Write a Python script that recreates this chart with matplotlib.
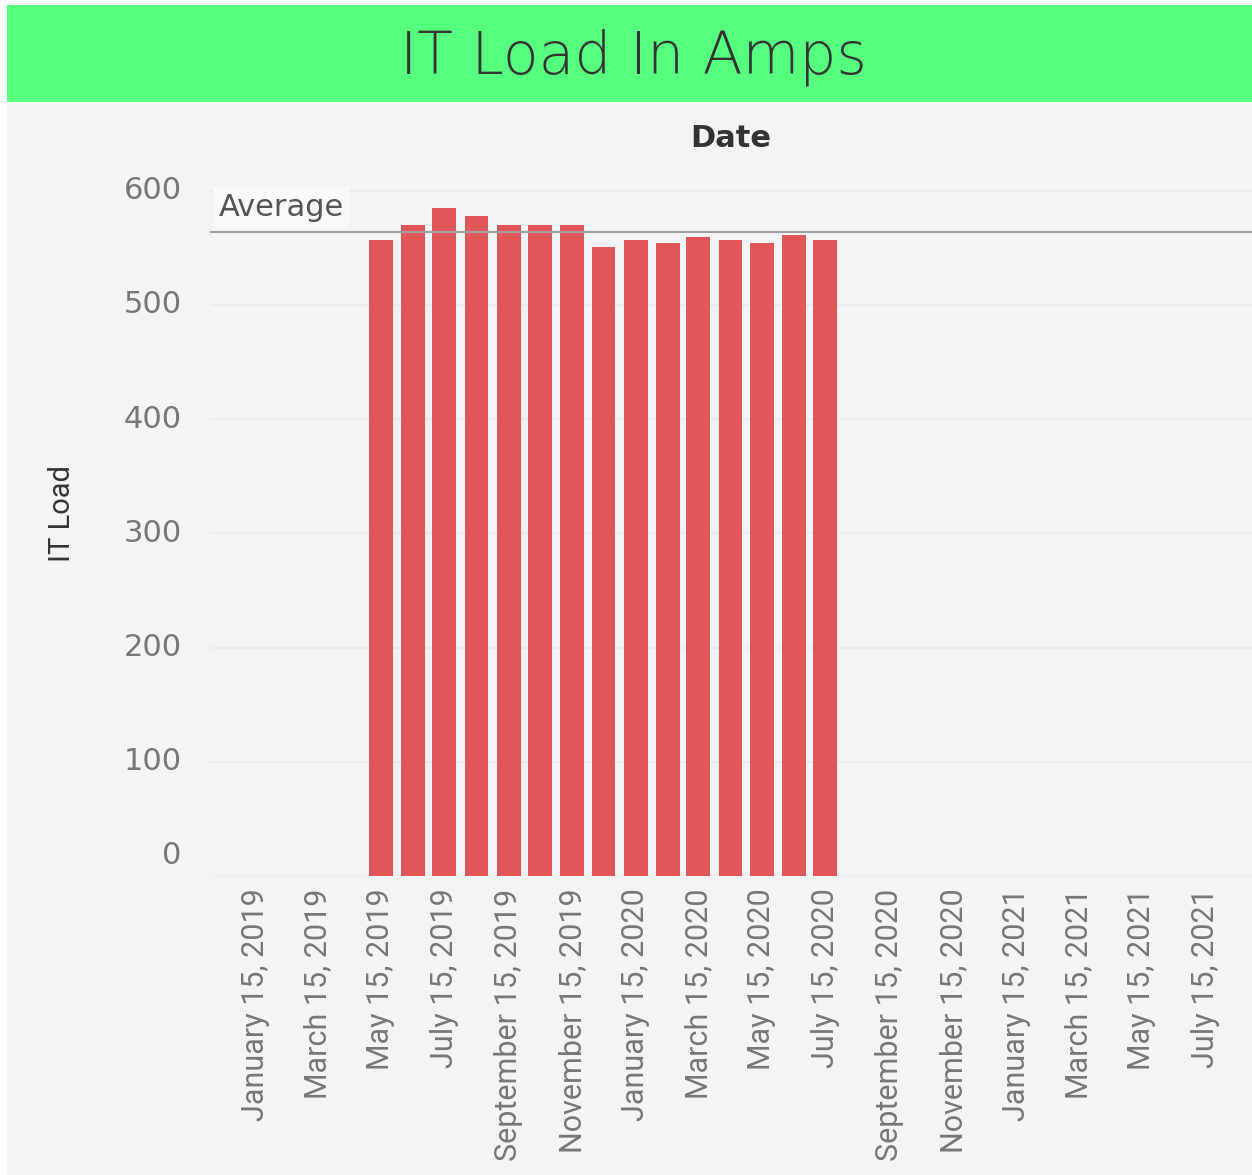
import datetime as dt
import matplotlib
matplotlib.use("Agg")
import matplotlib.pyplot as plt
from matplotlib.patches import Rectangle
from matplotlib.transforms import ScaledTranslation

# data
months = ["2019-05-15", "2019-06-15", "2019-07-15", "2019-08-15", "2019-09-15",
          "2019-10-15", "2019-11-15", "2019-12-15", "2020-01-15", "2020-02-15",
          "2020-03-15", "2020-04-15", "2020-05-15", "2020-06-15", "2020-07-15"]
it_load = [557, 570, 585, 578, 570, 570, 570, 551, 557, 554, 559, 557, 554, 561, 557]
tick_dates = ["2019-01-15", "2019-03-15", "2019-05-15", "2019-07-15", "2019-09-15",
              "2019-11-15", "2020-01-15", "2020-03-15", "2020-05-15", "2020-07-15",
              "2020-09-15", "2020-11-15", "2021-01-15", "2021-03-15", "2021-05-15",
              "2021-07-15"]
y_ticks = [0, 100, 200, 300, 400, 500, 600]

W, H = 1252, 1175

fig = plt.figure(figsize=(W / 100, H / 100), dpi=100)
fig.patch.set_facecolor("white")
# panel background + green header (behind the axes)
fig.patches.append(Rectangle((7 / W, 0), 1 - 7 / W, 1 - 102 / H, transform=fig.transFigure,
                             facecolor="#f4f4f4", edgecolor="none", zorder=-2))
fig.patches.append(Rectangle((7 / W, 1 - 102 / H), 1 - 7 / W, 97 / H, transform=fig.transFigure,
                             facecolor="#57ff7f", edgecolor="none", zorder=-2))
fig.text(633 / W, 1 - 74 / H, "IT Load In Amps", ha="center", va="baseline",
         fontsize=42, color="#333333", fontweight="light", family="DejaVu Sans")

ax = fig.add_axes([210 / W, 1 - 876 / H, (W - 210) / W, (876 - 170) / H])
ax.set_facecolor("#f4f4f4")

x = [dt.datetime.strptime(m, "%Y-%m-%d") for m in months]
ax.bar(x, it_load, width=23, color="#e15759", zorder=3)

avg = sum(it_load) / len(it_load)
ax.axhline(avg, color="#a0a0a0", lw=1.5, zorder=4)
ax.text(0.008, 0.947, "Average", transform=ax.transAxes, ha="left", va="center",
        fontsize=22, color="#555555", zorder=5,
        bbox=dict(boxstyle="square,pad=0.18", facecolor="#f9f9f9", edgecolor="none"))

ax.set_xlim(dt.datetime(2018, 12, 2), dt.datetime(2021, 8, 29))
ax.set_ylim(0, 618)

ticks = [dt.datetime.strptime(t, "%Y-%m-%d") for t in tick_dates]
ax.set_xticks(ticks)
ax.set_xticklabels([t.strftime("%B %d, %Y") for t in ticks], rotation=90,
                   fontsize=22, color="#777777", family="Roboto")
ax.tick_params(axis="x", length=0, pad=9)

ax.set_yticks(y_ticks)
ax.set_yticklabels([])
ax.tick_params(axis="y", length=0)
ax.grid(axis="y", color="#ececec", lw=1.3, zorder=0)
ax.set_axisbelow(True)
for v in y_ticks:
    tr = ax.get_yaxis_transform()
    if v == 0:
        tr = tr + ScaledTranslation(0, 0.2, fig.dpi_scale_trans)
    ax.text(-0.027, v, str(v), transform=tr, ha="right", va="center",
            fontsize=22, color="#777777")

for s in ax.spines.values():
    s.set_visible(False)

fig.text(731 / W, 1 - 147 / H, "Date", ha="center", va="baseline",
         fontsize=22, fontweight="bold", color="#333333")
fig.text(62 / W, 1 - 514 / H, "IT Load", rotation=90, ha="center", va="center",
         fontsize=21, color="#333333", family="Roboto")

fig.savefig("out.png", dpi=100, facecolor=fig.get_facecolor())
